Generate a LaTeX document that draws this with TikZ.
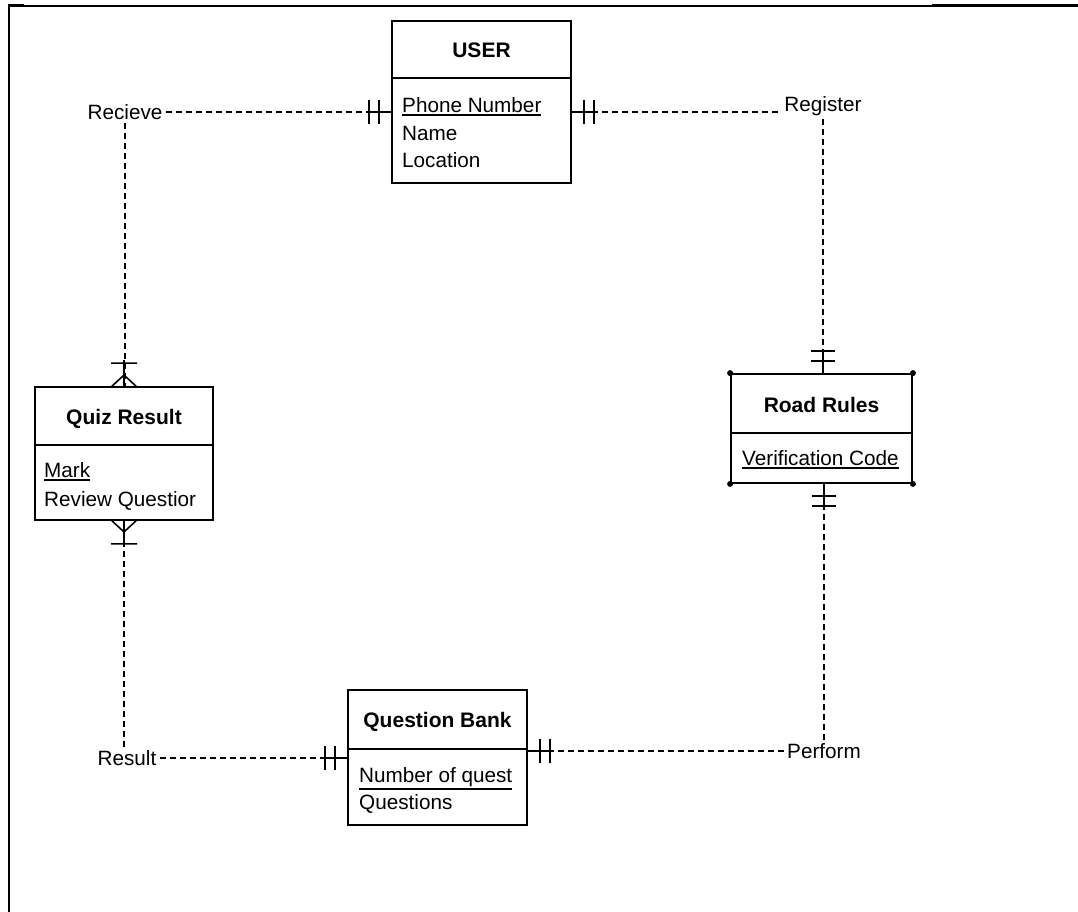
\documentclass[tikz,border=0pt]{standalone}
\usepackage{fontspec}
\setmainfont{Liberation Sans}
\usetikzlibrary{calc}
\newcommand{\keyattr}[1]{\vtop{\hbox{#1}\kern1.5pt\hrule height 1.3pt}}

\begin{document}
\begin{tikzpicture}[x=1pt,y=-1pt]

\tikzstyle{entity} = [draw,line width=1.8,inner sep=0]
\tikzstyle{enttitle} = [font=\fontsize{21}{25}\selectfont\bfseries,anchor=base,inner sep=0]
\tikzstyle{attr} = [font=\fontsize{20.7}{25}\selectfont,anchor=base west,inner sep=0]
\tikzstyle{relname} = [font=\fontsize{20.7}{25}\selectfont,inner sep=3]
\tikzstyle{rel} = [line width=1.5,dash pattern=on 6pt off 4pt]
\tikzset{
  onebar/.pic={\draw[solid,line width=1.6] (-24,0) -- (0,0) (-12,-12) -- (-12,12) (-22,-12) -- (-22,12);},
  manybar/.pic={\draw[solid,line width=1.6] (0,-12) -- (-11,0) -- (0,12) (-26,0) -- (0,0) (-23,-13) -- (-23,13);}
}

\useasboundingbox (0,0) rectangle (1078,912);
\draw[line width=1.3] (1078,6) -- (9,6);
\draw[line width=2] (9,6) -- (9,912);
\draw[line width=3] (932,6) -- (1078,6);
\draw[line width=3] (8,6) -- (24,6);

\node[entity,minimum width=179,minimum height=162] (user) at (481.5,102) {};
\draw[line width=1.8] (user.west |- 0,78) -- (user.east |- 0,78);
\node[enttitle] (userT) at (481.5,57.5) {USER};
\node[attr] (userA1) at (402,112.5) {\keyattr{Phone Number}};
\node[attr] (userA2) at (402,140.5) {Name};
\node[attr] (userA3) at (402,167.5) {Location};

\node[entity,minimum width=178,minimum height=133] (quiz) at (124,453.5) {};
\draw[line width=1.8] (quiz.west |- 0,445) -- (quiz.east |- 0,445);
\node[enttitle] (quizT) at (124,424.5) {Quiz Result};
\node[attr] (quizA1) at (44,477.5) {\keyattr{Mark}};
\node[attr] (quizA2) at (44,506.5) {Review Questior};

\node[entity,minimum width=181,minimum height=109] (road) at (821.5,428.5) {};
\draw[line width=1.8] (road.west |- 0,433) -- (road.east |- 0,433);
\node[enttitle] (roadT) at (821.5,412.5) {Road Rules};
\node[attr] (roadA1) at (742,465.5) {\keyattr{Verification Code}};
\fill (road.north west) circle (3) (road.north east) circle (3)
      (road.south west) circle (3) (road.south east) circle (3);

\node[entity,minimum width=179,minimum height=135] (qbank) at (437.5,757.5) {};
\draw[line width=1.8] (qbank.west |- 0,749) -- (qbank.east |- 0,749);
\node[enttitle] (qbankT) at (437.5,727.5) {Question Bank};
\node[attr] (qbankA1) at (359,782.5) {\keyattr{Number of quest}};
\node[attr] (qbankA2) at (359,809.5) {Questions};

\node[relname] (recv) at (125,112) {Recieve};
\node[relname] (reg) at (823,106) {Register};
\node[relname] (res) at (127,758) {Result};
\node[relname] (perf) at (824,751) {Perform};

\draw[rel] (recv.east) -- (recv.east -| user.west);
\draw[rel] (recv.south) -- (recv.south |- quiz.north);
\draw[rel] (user.east |- recv) -- (reg.west |- recv);
\draw[rel] (reg.south) -- (reg.south |- road.north);
\draw[rel] (perf.north |- road.south) -- (perf.north);
\draw[rel] (qbank.east |- perf) -- (perf.west);
\draw[rel] (res.east) -- (res.east -| qbank.west);
\draw[rel] (quiz.south) -- (quiz.south |- res.north);

\pic at (user.west |- recv) {onebar};
\pic[rotate=180] at (user.east |- recv) {onebar};
\pic[rotate=-90] at (reg.south |- road.north) {onebar};
\pic[rotate=90] at (perf.north |- road.south) {onebar};
\pic at (qbank.west |- res) {onebar};
\pic[rotate=180] at (qbank.east |- perf) {onebar};
\pic[rotate=-90] at (quiz.north) {manybar};
\pic[rotate=90] at (quiz.south) {manybar};

\end{tikzpicture}
\end{document}
